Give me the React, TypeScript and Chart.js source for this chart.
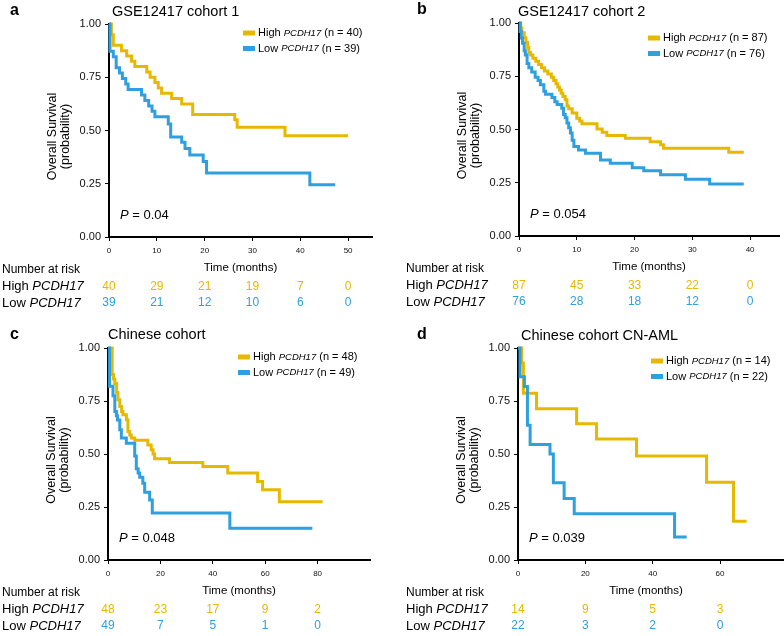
import React, { useEffect, useRef } from 'react';
import { Chart, registerables } from 'chart.js';

Chart.register(...registerables);

const YELLOW = '#E7B800';
const BLUE = '#2E9FDF';
const FONT = '"Liberation Sans", Arial, Helvetica, sans-serif';

// ---------- Data (time in months, survival probability) ----------
const aHigh = [[0, 1], [0.5, 0.95], [0.9, 0.9], [2.6, 0.875], [3.7, 0.85], [4.7, 0.825], [5.4, 0.8], [7.9, 0.775], [8.6, 0.75], [9.6, 0.725], [10.3, 0.7], [11.0, 0.675], [13.1, 0.65], [15.2, 0.625], [17.5, 0.575], [26.3, 0.55], [26.8, 0.515], [36.8, 0.475], [50, 0.475]];
const aLow = [[0, 1], [0.2, 0.872], [0.9, 0.846], [1.5, 0.795], [2.2, 0.77], [2.8, 0.744], [3.5, 0.718], [4.0, 0.692], [6.8, 0.667], [7.5, 0.641], [8.3, 0.615], [9.0, 0.59], [9.6, 0.564], [12.4, 0.53], [12.9, 0.47], [15.2, 0.445], [15.9, 0.415], [16.9, 0.385], [19.7, 0.355], [20.4, 0.3], [42.0, 0.245], [47.3, 0.245]];

const bHigh = [[0, 1], [0.3, 0.977], [0.5, 0.954], [0.9, 0.931], [1.2, 0.908], [1.5, 0.885], [1.7, 0.862], [2.0, 0.85], [2.4, 0.835], [2.9, 0.82], [3.4, 0.805], [3.9, 0.79], [4.4, 0.775], [5.0, 0.76], [5.6, 0.745], [6.0, 0.73], [6.4, 0.715], [6.7, 0.7], [7.0, 0.685], [7.3, 0.67], [7.6, 0.655], [8.0, 0.64], [8.3, 0.61], [8.6, 0.598], [9.2, 0.578], [10.0, 0.553], [10.5, 0.54], [10.9, 0.527], [13.5, 0.502], [14.4, 0.487], [15.2, 0.472], [18.4, 0.459], [22.7, 0.443], [24.5, 0.428], [25.0, 0.412], [36.3, 0.393], [38.9, 0.393]];
const bLow = [[0, 1], [0.2, 0.96], [0.4, 0.93], [0.6, 0.905], [0.9, 0.87], [1.1, 0.85], [1.4, 0.81], [1.7, 0.79], [2.2, 0.77], [2.8, 0.745], [3.3, 0.73], [3.7, 0.71], [4.3, 0.68], [4.6, 0.665], [5.7, 0.65], [6.2, 0.63], [6.6, 0.617], [7.4, 0.6], [7.7, 0.57], [8.0, 0.555], [8.3, 0.53], [8.6, 0.508], [8.9, 0.483], [9.2, 0.45], [9.5, 0.42], [10.3, 0.404], [11.5, 0.389], [14.1, 0.357], [15.8, 0.342], [19.6, 0.321], [21.6, 0.306], [24.5, 0.287], [28.8, 0.266], [33.0, 0.244], [38.9, 0.244]];

const cHigh = [[0, 1], [1.6, 0.875], [2.1, 0.854], [2.6, 0.833], [3.3, 0.79], [3.8, 0.756], [4.5, 0.724], [5.2, 0.7], [5.7, 0.685], [7.0, 0.661], [7.6, 0.606], [8.3, 0.59], [8.9, 0.575], [10.2, 0.565], [15.2, 0.543], [16.5, 0.52], [17.2, 0.5], [17.8, 0.478], [23.5, 0.46], [36.2, 0.441], [45.7, 0.41], [57.1, 0.37], [59.0, 0.331], [65.4, 0.275], [81.9, 0.275]];
const cLow = [[0, 1], [0.6, 0.82], [1.9, 0.775], [2.6, 0.7], [3.2, 0.68], [3.6, 0.66], [4.5, 0.614], [5.1, 0.575], [7.0, 0.551], [10.2, 0.49], [10.8, 0.43], [11.5, 0.41], [12.1, 0.39], [13.3, 0.362], [14.0, 0.32], [15.9, 0.283], [16.9, 0.222], [46.5, 0.15], [78.0, 0.15]];

const dHigh = [[0, 1], [1.1, 0.929], [1.6, 0.786], [5.5, 0.714], [17.4, 0.643], [23.3, 0.571], [35.2, 0.49], [56.0, 0.367], [64.0, 0.183], [67.9, 0.183]];
const dLow = [[0, 1], [0.6, 0.864], [1.9, 0.818], [2.8, 0.636], [3.6, 0.545], [9.5, 0.5], [10.5, 0.364], [13.7, 0.29], [16.7, 0.218], [46.5, 0.109], [50.1, 0.109]];

// ---------- Tick labels / risk tables ----------
const yTicks = [0, 0.25, 0.5, 0.75, 1];
const aTicks = [0, 10, 20, 30, 40, 50];
const bTicks = [0, 10, 20, 30, 40];
const cTicks = [0, 20, 40, 60, 80];
const dTicks = [0, 20, 40, 60];

const aRiskHigh = [40, 29, 21, 19, 7, 0];
const aRiskLow = [39, 21, 12, 10, 6, 0];
const bRiskHigh = [87, 45, 33, 22, 0];
const bRiskLow = [76, 28, 18, 12, 0];
const cRiskHigh = [48, 23, 17, 9, 2];
const cRiskLow = [49, 7, 5, 1, 0];
const dRiskHigh = [14, 9, 5, 3];
const dRiskLow = [22, 3, 2, 0];

const nHigh = [40, 87, 48, 14];
const nLow = [39, 76, 49, 22];
const titles = ['GSE12417 cohort 1', 'GSE12417 cohort 2', 'Chinese cohort', 'Chinese cohort CN-AML'];
const letters = ['a', 'b', 'c', 'd'];
const pValues = ['0.04', '0.054', '0.048', '0.039'];
const xMaxes = [55, 45, 100, 79];

// ---------- Layout (positions only) ----------
interface Layout {
  box: { left: number; top: number; width: number; height: number };
  area: { left: number; top: number; right: number; bottom: number };
  legend: { x: number; y: number };
  labelX: number;
  titleX: number;
  titleY: number;
  letterX: number;
  letterY: number;
  xTitleShift: number;
}

const layouts: Layout[] = [
  { box: { left: 0, top: 0, width: 392, height: 312 }, area: { left: 109, top: 24, right: 372, bottom: 237 }, legend: { x: 243, y: 33 }, labelX: 2, titleX: 112, titleY: 11.5, letterX: 10, letterY: 11, xTitleShift: 0 },
  { box: { left: 392, top: 0, width: 392, height: 312 }, area: { left: 127, top: 23, right: 387, bottom: 236 }, legend: { x: 256, y: 38 }, labelX: 14, titleX: 126, titleY: 12, letterX: 25, letterY: 10, xTitleShift: 0 },
  { box: { left: 0, top: 312, width: 392, height: 324 }, area: { left: 108, top: 36, right: 370, bottom: 248 }, legend: { x: 238, y: 45 }, labelX: 2, titleX: 108, titleY: 23, letterX: 10, letterY: 23, xTitleShift: 0 },
  { box: { left: 392, top: 312, width: 392, height: 324 }, area: { left: 126, top: 36, right: 392, bottom: 248 }, legend: { x: 259, y: 49 }, labelX: 14, titleX: 129, titleY: 24, letterX: 25, letterY: 23, xTitleShift: -5 },
];

const series = [
  { high: aHigh, low: aLow, ticks: aTicks, riskHigh: aRiskHigh, riskLow: aRiskLow },
  { high: bHigh, low: bLow, ticks: bTicks, riskHigh: bRiskHigh, riskLow: bRiskLow },
  { high: cHigh, low: cLow, ticks: cTicks, riskHigh: cRiskHigh, riskLow: cRiskLow },
  { high: dHigh, low: dLow, ticks: dTicks, riskHigh: dRiskHigh, riskLow: dRiskLow },
];

const fnt = (size: number, style = '', weight = '') => `${style} ${weight} ${size}px ${FONT}`.trim();

type Run = { t: string; f: string };
function drawRuns(ctx: CanvasRenderingContext2D, runs: Run[], x: number, y: number, color: string, align: 'left' | 'center' = 'left') {
  ctx.save();
  ctx.fillStyle = color;
  ctx.textBaseline = 'middle';
  ctx.textAlign = 'left';
  let total = 0;
  for (const r of runs) {
    ctx.font = r.f;
    total += ctx.measureText(r.t).width;
  }
  let cx = align === 'center' ? x - total / 2 : x;
  for (const r of runs) {
    ctx.font = r.f;
    ctx.fillText(r.t, cx, y);
    cx += ctx.measureText(r.t).width;
  }
  ctx.restore();
}

function KMPanel({ idx }: { idx: number }) {
  const ref = useRef<HTMLCanvasElement | null>(null);
  const L = layouts[idx];
  const S = series[idx];

  useEffect(() => {
    if (!ref.current) return;
    const Y_AXIS_W = 40;
    const X_AXIS_H = 20;
    const overlay = {
      id: 'kmOverlay',
      afterDraw(chart: any) {
        const ctx: CanvasRenderingContext2D = chart.ctx;
        const { left, top, right, bottom } = chart.chartArea;
        const xs = chart.scales.x;
        drawRuns(ctx, [{ t: letters[idx], f: fnt(16, '', 'bold') }], L.letterX, L.letterY, '#000');
        drawRuns(ctx, [{ t: titles[idx], f: fnt(14.5) }], L.titleX, L.titleY, '#000');
        const rows = [
          { c: YELLOW, lab: 'High ', n: nHigh[idx] },
          { c: BLUE, lab: 'Low ', n: nLow[idx] },
        ];
        rows.forEach((r, i) => {
          const y = L.legend.y + i * 15.5;
          ctx.save();
          ctx.fillStyle = r.c;
          ctx.fillRect(L.legend.x, y - 2.5, 12, 5);
          ctx.restore();
          drawRuns(ctx, [
            { t: r.lab, f: fnt(11) },
            { t: 'PCDH17', f: fnt(9.5, 'italic') },
            { t: ` (n = ${r.n})`, f: fnt(11) },
          ], L.legend.x + 15, y, '#000');
        });
        drawRuns(ctx, [
          { t: 'P', f: fnt(13, 'italic') },
          { t: ` = ${pValues[idx]}`, f: fnt(13) },
        ], left + 11, bottom - 22, '#000');
        ctx.save();
        const midY = (top + bottom) / 2 + 6;
        ctx.translate(left - 56, midY);
        ctx.rotate(-Math.PI / 2);
        drawRuns(ctx, [{ t: 'Overall Survival', f: fnt(12.5) }], 0, 0, '#000', 'center');
        ctx.restore();
        ctx.save();
        ctx.translate(left - 43, midY);
        ctx.rotate(-Math.PI / 2);
        drawRuns(ctx, [{ t: '(probability)', f: fnt(12.5) }], 0, 0, '#000', 'center');
        ctx.restore();
        drawRuns(ctx, [{ t: 'Time (months)', f: fnt(11.5) }], (left + right) / 2 + L.xTitleShift, bottom + 30.5, '#000', 'center');
        drawRuns(ctx, [{ t: 'Number at risk', f: fnt(12) }], L.labelX, bottom + 33, '#000');
        drawRuns(ctx, [{ t: 'High ', f: fnt(13) }, { t: 'PCDH17', f: fnt(13, 'italic') }], L.labelX, bottom + 49.5, '#000');
        drawRuns(ctx, [{ t: 'Low ', f: fnt(13) }, { t: 'PCDH17', f: fnt(13, 'italic') }], L.labelX, bottom + 66, '#000');
        S.ticks.forEach((t, i) => {
          const px = xs.getPixelForValue(t);
          drawRuns(ctx, [{ t: String(S.riskHigh[i]), f: fnt(12) }], px, bottom + 49.5, YELLOW, 'center');
          drawRuns(ctx, [{ t: String(S.riskLow[i]), f: fnt(12) }], px, bottom + 66, BLUE, 'center');
        });
      },
    };

    const toXY = (arr: number[][]) => arr.map(([x, y]) => ({ x, y }));

    const chart = new Chart(ref.current, {
      type: 'line',
      data: {
        datasets: [
          { label: 'Low', data: toXY(S.low), borderColor: BLUE, backgroundColor: BLUE, borderWidth: 3, pointRadius: 0, stepped: 'before', fill: false, clip: false as any, borderCapStyle: 'butt', borderJoinStyle: 'miter' },
          { label: 'High', data: toXY(S.high), borderColor: YELLOW, backgroundColor: YELLOW, borderWidth: 3, pointRadius: 0, stepped: 'before', fill: false, clip: false as any, borderCapStyle: 'butt', borderJoinStyle: 'miter' },
        ],
      },
      options: {
        animation: false,
        responsive: false,
        maintainAspectRatio: false,
        devicePixelRatio: 1,
        events: [],
        layout: {
          padding: {
            left: L.area.left - Y_AXIS_W,
            top: L.area.top,
            right: L.box.width - L.area.right,
            bottom: L.box.height - L.area.bottom - X_AXIS_H,
          },
        },
        plugins: { legend: { display: false }, tooltip: { enabled: false }, title: { display: false } },
        scales: {
          x: {
            type: 'linear',
            min: 0,
            max: xMaxes[idx],
            afterBuildTicks: (s: any) => { s.ticks = S.ticks.map((v) => ({ value: v })); },
            afterFit: (s: any) => { s.height = X_AXIS_H; },
            ticks: { font: { size: 8, family: FONT }, color: '#111', padding: 5, maxRotation: 0, autoSkip: false, callback: (v: any) => String(v) },
            grid: { drawOnChartArea: false, drawTicks: true, tickLength: 4, color: '#000', lineWidth: 1 },
            border: { display: true, color: '#000', width: 2 },
          },
          y: {
            type: 'linear',
            min: 0,
            max: 1,
            afterBuildTicks: (s: any) => { s.ticks = yTicks.map((v) => ({ value: v })); },
            afterFit: (s: any) => { s.width = Y_AXIS_W; },
            ticks: { font: { size: 11, family: FONT }, color: '#111', padding: 4, callback: (v: any) => Number(v).toFixed(2) },
            grid: { drawOnChartArea: false, drawTicks: true, tickLength: 4, color: '#000', lineWidth: 1 },
            border: { display: true, color: '#000', width: 2 },
          },
        },
      } as any,
      plugins: [overlay],
    });
    return () => chart.destroy();
  }, [idx]);

  return (
    <canvas
      ref={ref}
      width={L.box.width}
      height={L.box.height}
      style={{ position: 'absolute', left: L.box.left, top: L.box.top, width: L.box.width, height: L.box.height }}
    />
  );
}

export default function App() {
  return (
    <div style={{ position: 'absolute', left: 0, top: 0, width: 784, height: 636, overflow: 'hidden', background: '#fff' }}>
      {[0, 1, 2, 3].map((i) => (
        <KMPanel key={i} idx={i} />
      ))}
    </div>
  );
}
